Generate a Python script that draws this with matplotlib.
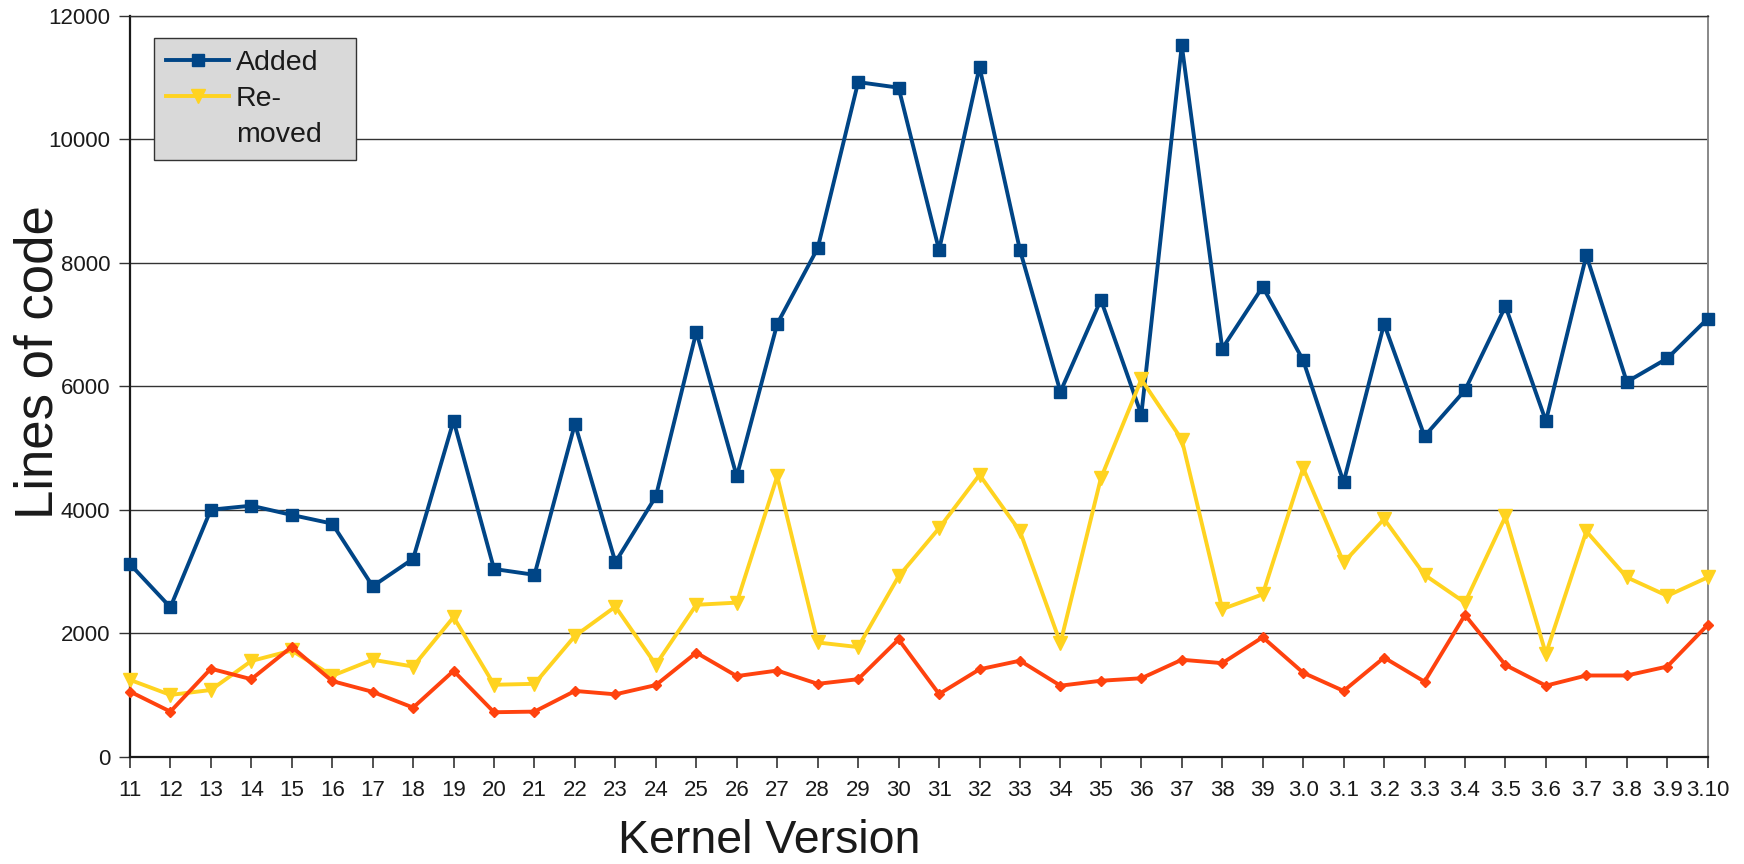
import matplotlib.pyplot as plt
from matplotlib.lines import Line2D

# kernel versions on the x axis
versions = ["11", "12", "13", "14", "15", "16", "17", "18", "19", "20",
            "21", "22", "23", "24", "25", "26", "27", "28", "29", "30",
            "31", "32", "33", "34", "35", "36", "37", "38", "39", "3.0",
            "3.1", "3.2", "3.3", "3.4", "3.5", "3.6", "3.7", "3.8", "3.9", "3.10"]

# lines of code per release
added = [3120, 2420, 4000, 4065, 3915, 3775, 2760, 3205, 5440, 3040,
         2945, 5390, 3150, 4215, 6880, 4540, 7010, 8235, 10925, 10835,
         8205, 11170, 8205, 5910, 7400, 5540, 11520, 6610, 7610, 6420,
         4445, 7010, 5190, 5935, 7295, 5435, 8120, 6070, 6450, 7095]
removed = [1245, 1000, 1080, 1550, 1720, 1310, 1570, 1460, 2260, 1165,
           1180, 1955, 2430, 1490, 2460, 2495, 4540, 1850, 1775, 2920,
           3700, 4565, 3650, 1840, 4510, 6110, 5135, 2390, 2630, 4675,
           3145, 3850, 2945, 2495, 3890, 1665, 3650, 2905, 2605, 2905]
changed = [1055, 730, 1425, 1255, 1780, 1225, 1050, 795, 1390, 720,
           730, 1065, 1010, 1160, 1685, 1305, 1395, 1180, 1255, 1900,
           1015, 1415, 1555, 1150, 1230, 1270, 1570, 1515, 1935, 1360,
           1065, 1605, 1215, 2295, 1485, 1150, 1315, 1315, 1460, 2135]

plt.rcParams['font.family'] = ['Liberation Sans', 'DejaVu Sans']
text_color = '#1a1a1a'

fig = plt.figure(figsize=(17.44, 8.64), dpi=100)
ax = fig.add_axes([0.0745, 0.1242, 0.9047, 0.8576])

x = list(range(len(versions)))
l_added, = ax.plot(x, added, color='#004586', lw=2.8, marker='s', ms=9,
                   clip_on=False, zorder=3, label='Added')
l_removed, = ax.plot(x, removed, color='#ffd320', lw=2.8, marker='v', ms=10,
                     clip_on=False, zorder=4, label='Removed')
ax.plot(x, changed, color='#ff420e', lw=2.8, marker='D', ms=5.5,
        clip_on=False, zorder=5)

ax.set_xlim(0, len(versions) - 1)
ax.set_ylim(0, 12000)
ax.set_xticks(x)
ax.set_xticklabels(versions)
ax.set_yticks(range(0, 12001, 2000))

ax.grid(axis='y', color='#333333', lw=1.0)
ax.set_axisbelow(True)
for side in ['left', 'bottom']:
    ax.spines[side].set_color('#1a1a1a')
    ax.spines[side].set_linewidth(1.6)
ax.spines['top'].set_color('#333333')
ax.spines['top'].set_linewidth(1.0)
ax.spines['right'].set_color('#888888')
ax.spines['right'].set_linewidth(1.4)

ax.tick_params(axis='x', length=8, width=1.2, color='#333333', pad=8.5,
               labelsize=16, labelcolor=text_color)
ax.tick_params(axis='y', length=8, width=1.0, color='#333333', pad=6,
               labelsize=16, labelcolor=text_color)

ax.set_ylabel('Lines of code', fontsize=38, color=text_color)
ax.yaxis.set_label_coords(-0.0418, 0.532)
ax.set_xlabel('Kernel Version', fontsize=33.5, color=text_color)
ax.xaxis.set_label_coords(0.405, -0.084)

# legend: "Re-" / "moved" wraps onto a second row, as in the original
blank = Line2D([], [], color='none')
leg = ax.legend([l_added, l_removed, blank], ['Added', 'Re-', 'moved'],
                loc='upper left', bbox_to_anchor=(0.0154, 0.80, 0.128, 0.1695),
                mode='expand', borderaxespad=0, fontsize=20.5,
                handlelength=2.2, handletextpad=0.25, labelspacing=0.34,
                borderpad=0.42, fancybox=False, facecolor='#d9d9d9',
                edgecolor='#333333', framealpha=1, labelcolor=text_color)
leg.get_frame().set_linewidth(1.0)

fig.savefig('out.png', dpi=100)
